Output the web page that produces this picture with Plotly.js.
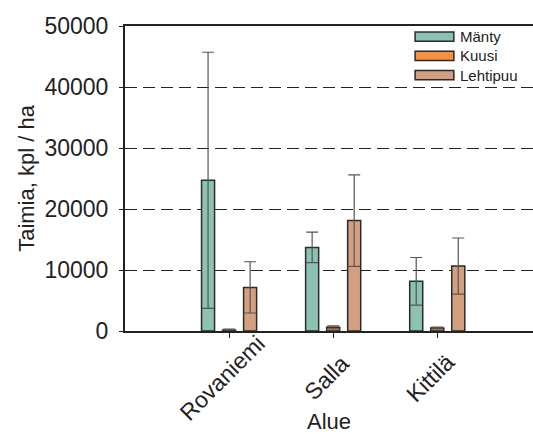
<!DOCTYPE html>
<html><head><meta charset="utf-8">
<script src="https://cdn.plot.ly/plotly-3.0.1.min.js"></script>
<style>html,body{margin:0;padding:0;background:#fff;}#chart{width:533px;height:434px;}</style>
</head><body><div id="chart"></div>
<script>
const categories = ["Rovaniemi", "Salla", "Kittilä"];
const seriesNames = ["Mänty", "Kuusi", "Lehtipuu"];
const manty = [24700, 13700, 8150];
const mantySd = [21000, 2500, 3900];
const kuusi = [150, 600, 500];
const kuusiSd = [150, 250, 150];
const lehtipuu = [7150, 18100, 10650];
const lehtipuuSd = [4200, 7500, 4600];
const yTicks = [0, 10000, 20000, 30000, 40000, 50000];

const colors = ["#8cc2b4", "#f7913d", "#d3a07f"];
const vals = [manty, kuusi, lehtipuu];
const sds = [mantySd, kuusiSd, lehtipuuSd];
const FONT = "Liberation Sans, Arial, sans-serif";

const traces = seriesNames.map((n, i) => ({
  type: "bar", name: n, x: categories, y: vals[i], showlegend: false,
  marker: {color: colors[i], line: {color: "#2b2b2b", width: 1.5}},
  error_y: {type: "data", array: sds[i], visible: true, color: "#555", thickness: 1.2, width: 6}
}));

// legend drawn in paper coordinates (swatches + labels)
const legX0 = 0.711, legX1 = 0.806, legTop = 0.98, legStep = 0.063, legH = 0.03;
const shapes = seriesNames.map((n, i) => ({
  type: "rect", xref: "paper", yref: "paper",
  x0: legX0, x1: legX1, y0: legTop - i * legStep - legH, y1: legTop - i * legStep,
  fillcolor: colors[i], line: {color: "#2b2b2b", width: 1.5}
}));
const annotations = seriesNames.map((n, i) => ({
  xref: "paper", yref: "paper", x: legX1 + 0.01, y: legTop - i * legStep - legH / 2,
  xanchor: "left", yanchor: "middle", text: n, showarrow: false,
  font: {family: FONT, size: 15, color: "#222"}
}));
// rotated category labels, centred under the ticks
categories.forEach(c => annotations.push({
  xref: "x", yref: "paper", x: c, y: -0.154, xshift: -7,
  xanchor: "center", yanchor: "middle", textangle: -45, text: c, showarrow: false,
  font: {family: FONT, size: 23, color: "#222"}
}));

const layout = {
  width: 533, height: 434,
  margin: {l: 125, r: 0, t: 26, b: 103},
  paper_bgcolor: "#fff", plot_bgcolor: "#fff",
  font: {family: FONT, color: "#222", size: 23},
  barmode: "group", bargap: 0.394, bargroupgap: 0.38,
  showlegend: false,
  shapes: shapes, annotations: annotations,
  xaxis: {range: [-1, 2.92], showline: true, linecolor: "#222", linewidth: 2, mirror: true,
          ticks: "outside", ticklen: 5, tickcolor: "#222", showticklabels: false,
          title: {text: "Alue", font: {size: 22}, standoff: 78}, showgrid: false, zeroline: false},
  yaxis: {range: [0, 50000], tickvals: yTicks, ticktext: yTicks.map(String),
          showline: true, linecolor: "#222", linewidth: 2,
          ticks: "outside", ticklen: 4, tickcolor: "#222", ticklabelstandoff: 6,
          showgrid: true, gridcolor: "#222", gridwidth: 1, griddash: "12px,6px", zeroline: false,
          title: {text: "Taimia, kpl / ha", font: {size: 22}, standoff: 4}}
};
Plotly.newPlot("chart", traces, layout, {displayModeBar: false, staticPlot: true});
</script></body></html>
